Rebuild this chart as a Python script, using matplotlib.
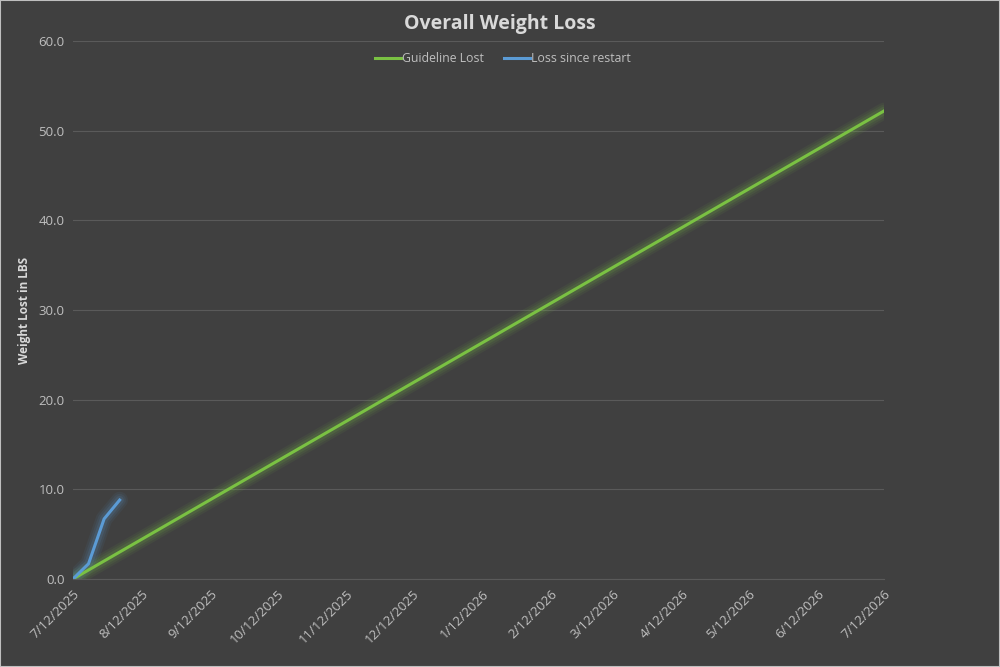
import numpy as np
import pandas as pd
import matplotlib
matplotlib.use("Agg")
import matplotlib.pyplot as plt
from matplotlib.ticker import FormatStrFormatter

guide_dates = ["2025-07-12", "2026-07-12"]
guide_lost = [0.0, 52.2]

restart_dates = ["2025-07-12", "2025-07-19", "2025-07-26", "2025-08-02"]
restart_lost = [0.0, 1.7, 6.7, 8.8]

tick_dates = ["2025-07-12", "2025-08-12", "2025-09-12", "2025-10-12", "2025-11-12",
              "2025-12-12", "2026-01-12", "2026-02-12", "2026-03-12", "2026-04-12",
              "2026-05-12", "2026-06-12", "2026-07-12"]

bg = "#404040"
txt = "#d9d9d9"
green = "#7ac143"
blue = "#5b9bd5"

plt.rcParams["font.family"] = ["Open Sans", "DejaVu Sans"]

fig = plt.figure(figsize=(10, 6.67), dpi=100, facecolor=bg)
ax = fig.add_axes([0.073, 0.132, 0.811, 0.8065])
ax.set_facecolor(bg)

gx = pd.to_datetime(guide_dates)
bx = pd.to_datetime(restart_dates)
tx = pd.to_datetime(tick_dates)

# soft glow under the lines
for w, a in [(12, 0.07), (9, 0.09), (6, 0.13)]:
    ax.plot(gx, guide_lost, color=green, lw=w, alpha=a, solid_capstyle="round")
    ax.plot(bx, restart_lost, color=blue, lw=w, alpha=a, solid_capstyle="round")
ax.plot(gx, guide_lost, color=green, lw=2.2, label="Guideline Lost")
ax.plot(bx, restart_lost, color=blue, lw=2.2, label="Loss since restart")

ax.set_ylim(0, 60)
ax.set_yticks(np.arange(0, 61, 10))
ax.yaxis.set_major_formatter(FormatStrFormatter("%.1f"))
ax.set_xlim(tx[0], tx[-1])
ax.set_xticks(tx)
ax.set_xticklabels([f"{d.month}/{d.day}/{d.year}" for d in tx],
                   rotation=45, ha="right", va="top", rotation_mode="anchor")

ax.grid(axis="y", color="#5a5a5a", lw=0.8)
ax.set_axisbelow(True)
for s in ax.spines.values():
    s.set_visible(False)
ax.spines["bottom"].set_visible(True)
ax.spines["bottom"].set_color("#5a5a5a")
ax.tick_params(colors="#bfbfbf", labelsize=9.5, length=0, pad=6)

ax.set_ylabel("Weight Lost in LBS", color=txt, fontsize=8.5, fontweight="bold")
ax.yaxis.set_label_coords(-0.052, 0.5)
fig.text(0.5, 0.964, "Overall Weight Loss", ha="center", va="center",
         color=txt, fontsize=14, fontweight="bold")

leg = ax.legend(loc="center", bbox_to_anchor=(0.503, 0.912), bbox_transform=fig.transFigure,
                ncol=2, frameon=False, fontsize=8.8, handlelength=2.1, handletextpad=0.15,
                columnspacing=1.6)
for t in leg.get_texts():
    t.set_color("#bfbfbf")

# thin light frame around the image
fig.add_artist(plt.Rectangle((0, 0), 1, 1, transform=fig.transFigure, fill=False,
                             ec="#bfbfbf", lw=1.5))

fig.savefig("out.png", dpi=100, facecolor=bg)
